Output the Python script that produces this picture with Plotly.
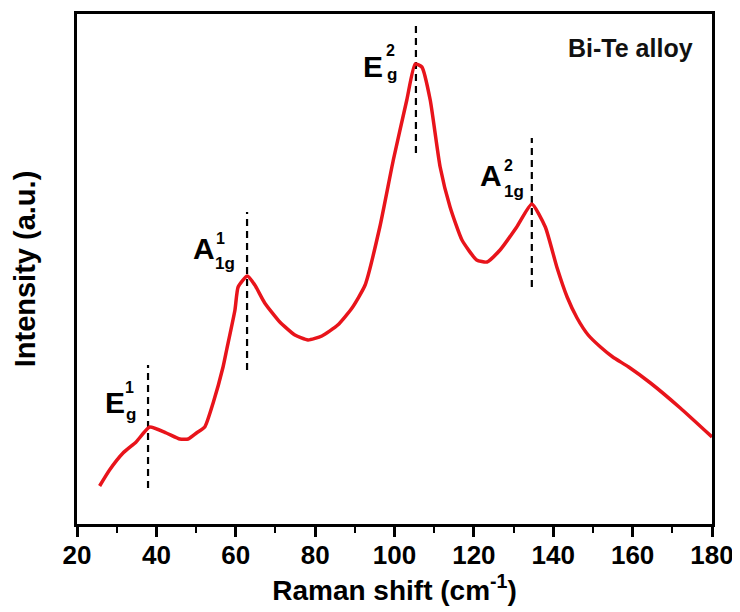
import plotly.graph_objects as go

# Raman spectrum (x in cm^-1, intensity in arbitrary units)
raman_shift = [25.7, 28.2, 31.6, 34.9, 38.3, 42.5, 45.9, 48.0, 50.1, 52.2, 54.3, 56.8, 57.7,
               59.8, 60.6, 62.9, 64.8, 67.3, 71.1, 74.9, 78.2, 81.7, 85.7, 89.3, 92.6, 96.3,
               99.7, 103.1, 105.2, 106.9, 109.0, 111.5, 114.0, 117.0, 120.7, 123.3, 126.6,
               130.8, 134.6, 138.0, 140.9, 143.5, 146.0, 148.8, 151.9, 155.0, 159.0, 164.5, 172.0, 180.0]
intensity = [38, 54, 71, 82, 97, 91, 85, 85, 91, 97, 121, 157, 174,
             214, 237, 248, 239, 221, 202, 189, 184, 188, 199, 216, 239, 297,
             364, 424, 460, 457, 424, 357, 317, 284, 264, 262, 274,
             297, 320, 297, 257, 227, 206, 189, 177, 167, 157, 141, 116, 87]

# Peak markers
peak_x = [37.9, 62.85, 105.4, 134.6]
peak_ymin = [36, 154, 371, 237]
peak_ymax = [159, 312, 502, 386]

# Mode labels: main letter, superscript, subscript
mode_main = ["E", "A", "E", "A"]
mode_sup = ["1", "1", "2", "2"]
mode_sub = ["g", "1g", "g", "1g"]
main_pos = [(29.67, 122), (51.92, 275.5), (94.57, 458), (124.23, 349)]
sup_pos = [(33.3, 137), (56.2, 286), (99.0, 474), (128.6, 359)]
sub_pos = [(33.5, 110), (57.4, 261), (99.3, 450), (130.0, 333)]

x_ticks = [20, 40, 60, 80, 100, 120, 140, 160, 180]

fig = go.Figure()

for px, y0, y1 in zip(peak_x, peak_ymin, peak_ymax):
    fig.add_trace(go.Scatter(x=[px, px], y=[y0, y1], mode="lines",
                             line=dict(color="black", width=2.2, dash="7px,5px"),
                             showlegend=False, hoverinfo="skip"))

fig.add_trace(go.Scatter(x=raman_shift, y=intensity, mode="lines",
                         line=dict(color="#e8141b", width=3.5, shape="spline", smoothing=0.5),
                         showlegend=False))

lab_font = "Liberation Sans, Arial, sans-serif"
for m, s, b, mp, sp, bp in zip(mode_main, mode_sup, mode_sub, main_pos, sup_pos, sub_pos):
    fig.add_annotation(x=mp[0], y=mp[1], text=m, showarrow=False,
                       font=dict(family=lab_font, size=30, color="black", weight="bold"))
    fig.add_annotation(x=sp[0], y=sp[1], text=s, showarrow=False,
                       font=dict(family=lab_font, size=16, color="black", weight="bold"))
    fig.add_annotation(x=bp[0], y=bp[1], text=b, showarrow=False,
                       font=dict(family=lab_font, size=17, color="black", weight="bold"))

fig.add_annotation(x=159.4, y=476, text="Bi-Te alloy", showarrow=False,
                   font=dict(family=lab_font, size=25, color="#111", weight="bold"))

fig.update_layout(
    width=732, height=604,
    margin=dict(l=69, r=28, t=6, b=88),
    plot_bgcolor="white", paper_bgcolor="white",
    xaxis=dict(range=[20, 180], tickvals=x_ticks, ticks="outside", ticklen=10, tickwidth=2.5,
               tickcolor="black", showline=True, linewidth=3, linecolor="black", mirror=True,
               showgrid=False, zeroline=False, automargin=False, ticklabelstandoff=-4,
               tickfont=dict(family=lab_font, size=26, color="black", weight="bold"),
               minor=dict(dtick=10, ticks="outside", ticklen=6, tickwidth=2, tickcolor="black"),
               title=dict(text="Raman shift (cm<sup>-1</sup>)", standoff=4,
                          font=dict(family=lab_font, size=28, color="black", weight="bold"))),
    yaxis=dict(range=[0, 510], showticklabels=False, ticks="", showline=True, linewidth=3,
               linecolor="black", mirror=True, showgrid=False, zeroline=False, automargin=False,
               title=dict(text="Intensity (a.u.)", standoff=30,
                          font=dict(family=lab_font, size=29, color="black", weight="bold"))),
)

fig.write_html("out.html")
